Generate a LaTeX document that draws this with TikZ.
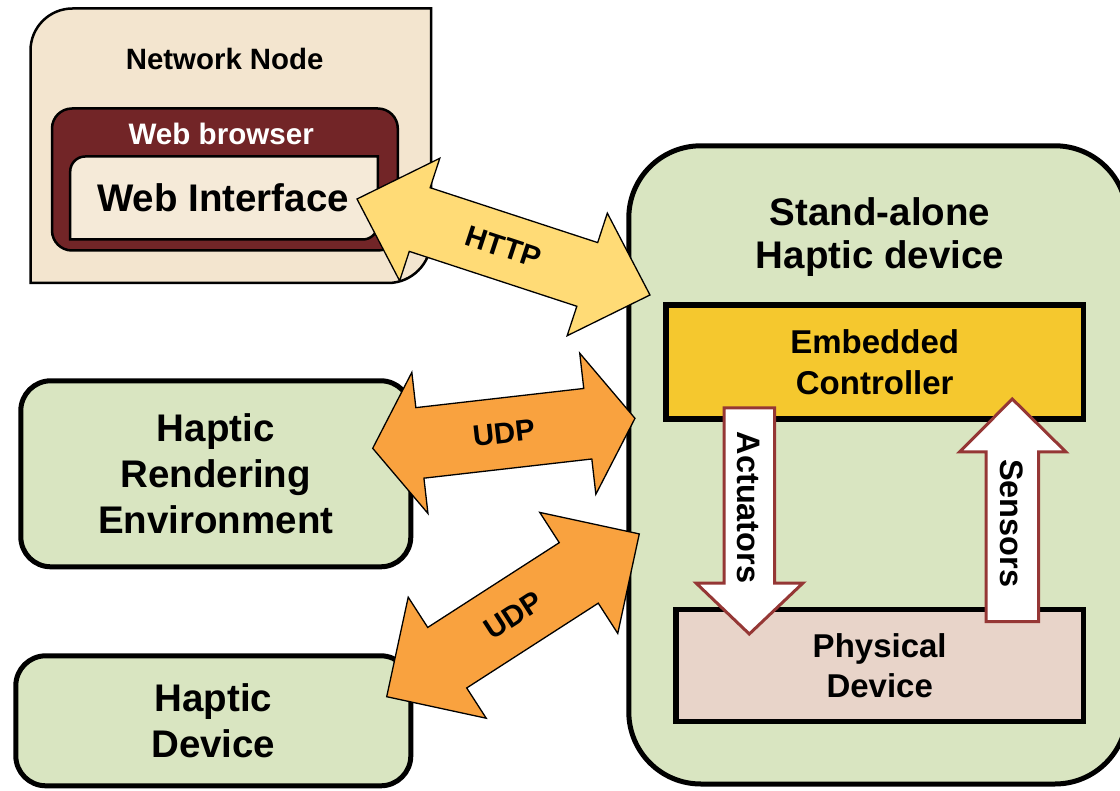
\documentclass[tikz,border=0pt]{standalone}
\usepackage{fontspec}
\setmainfont{Liberation Sans}
\usetikzlibrary{calc}

\definecolor{nodetan}{HTML}{F3E5CF}
\definecolor{browserred}{HTML}{722527}
\definecolor{ifacetan}{HTML}{F5EAD8}
\definecolor{boxgreen}{HTML}{D9E5C1}
\definecolor{httpyellow}{HTML}{FFDB76}
\definecolor{udporange}{HTML}{F9A23F}
\definecolor{ctrlgold}{HTML}{F5C82E}
\definecolor{physpink}{HTML}{E8D4C9}
\definecolor{signalred}{HTML}{953735}

\tikzset{
  every node/.style={inner sep=0pt, outer sep=0pt},
  greenbox/.style={draw=black, line width=5pt, fill=boxgreen, rounded corners=30pt,
    align=center, font={\bfseries\fontsize{38.5}{45.8}\selectfont}},
  innerbox/.style={draw=black, line width=5.5pt, align=center,
    font={\bfseries\fontsize{33}{41}\selectfont}},
  linkarrow/.style={draw=black, line width=1.3pt, line join=miter},
  httparrow/.style={linkarrow, fill=httpyellow},
  udparrow/.style={linkarrow, fill=udporange},
  arrowtext/.style={font={\bfseries\fontsize{29.5}{34}\selectfont}},
  signalarrow/.style={draw=signalred, line width=3pt, fill=white, line join=miter},
  signaltext/.style={font={\bfseries\fontsize{32.5}{38}\selectfont}, rotate=-90},
}

% two-headed block arrow: name, tail tip, angle, length,
% shaft half width, head half width, head length, style, label
\newcommand\wayarrow[9]{%
  \begin{scope}[shift={(#2)},rotate=#3]
    \draw[#8] (0,0) -- (#7,#6) -- (#7,#5) -- ({#4-#7},#5) -- ({#4-#7},#6) -- (#4,0)
      -- ({#4-#7},-#6) -- ({#4-#7},-#5) -- (#7,-#5) -- (#7,-#6) -- cycle;
    \node[arrowtext, rotate=#3] (#1) at ({#4/2},0) {#9};
  \end{scope}}

\begin{document}
\begin{tikzpicture}[x=1pt,y=-1pt]
\useasboundingbox (0,0) rectangle (1120,791);
\clip (0,0) rectangle (1120,791);
\fill[white] (0,0) rectangle (1120,791);

% network node with its browser
\draw[line width=2.5pt, fill=nodetan]
  (30.5,283) -- (30.5,50.5) .. controls (30.5,27.3) and (49.3,8.5) .. (72.5,8.5)
  -- (431,8.5) -- (431,240) .. controls (431,263.7) and (411.7,283) .. (388,283) -- cycle;
\node[font={\bfseries\fontsize{29.4}{34}\selectfont}, anchor=base] (netnode) at (224.7,69.3) {Network Node};

\node[draw=black, line width=2.5pt, fill=browserred, rounded corners=20pt,
  minimum width=345.8pt, minimum height=142pt] (browser) at (224.9,179.5) {};
\node[font={\bfseries\fontsize{29.6}{34}\selectfont}, text=white, anchor=base] (browsertitle) at (221.2,145) {Web browser};

\draw[line width=2.5pt, fill=ifacetan]
  (70.2,239.5) -- (70.2,171.5) .. controls (70.2,163.2) and (76.9,156.5) .. (85.2,156.5)
  -- (377.8,156.5) -- (377.8,224.5) .. controls (377.8,232.8) and (371.1,239.5) .. (362.8,239.5) -- cycle;
\node[font={\bfseries\fontsize{38.5}{44}\selectfont}, anchor=base] (webif) at (223,211.7) {Web Interface};

% stand-alone device
\node[draw=black, line width=5pt, fill=boxgreen, rounded corners=72pt,
  minimum width=498.2pt, minimum height=638.2pt] (standalone) at (877.9,464.9) {};
\node[align=center, font={\bfseries\fontsize{38.5}{43.3}\selectfont}] (satitle) at (880,236.7) {Stand-alone\\Haptic device};
\node[innerbox, fill=ctrlgold, minimum width=417.7pt, minimum height=114pt] (ctrl) at (874.7,362.2) {Embedded\\Controller};
\node[innerbox, fill=physpink, minimum width=407.3pt, minimum height=112.2pt, font={\bfseries\fontsize{33}{40}\selectfont}] (phys) at (879.7,665.5) {Physical\\Device};

% left side clients
\node[greenbox, minimum width=390pt, minimum height=186pt] (render) at (215.8,473.8) {Haptic\\Rendering\\Environment};
\node[greenbox, minimum width=395pt, minimum height=130pt] (hapdev) at (213.3,720.8) {Haptic\\Device};

% network links
\coordinate (http-w) at (357,199);
\coordinate (udp1-w) at (372.7,448.3);
\coordinate (udp2-w) at (386.7,696.7);
\wayarrow{http}{http-w}{-18.14}{308.3}{33.5}{64.5}{66}{httparrow}{HTTP}
\wayarrow{udp1}{udp1-w}{6.52}{264}{35.5}{71}{47.5}{udparrow}{UDP}
\wayarrow{udp2}{udp2-w}{32.8}{300.5}{36}{72}{72}{udparrow}{UDP}

% controller to physical device signals
\coordinate (act) at (749.3,408);
\coordinate (sens) at (1012.3,621.5);
\begin{scope}[shift={(act)}]
  \draw[signalarrow] (-25.3,0) -- (25.2,0) -- (25.2,175) -- (53.7,175) -- (0,226)
    -- (-53.3,175) -- (-25.3,175) -- cycle;
\end{scope}
\node[signaltext] (actlabel) at (748.5,507.5) {Actuators};
\begin{scope}[shift={(sens)}]
  \draw[signalarrow] (-26.3,0) -- (26.2,0) -- (26.2,-169.5) -- (53.7,-169.5) -- (0,-222.5)
    -- (-52.8,-169.5) -- (-26.3,-169.5) -- cycle;
\end{scope}
\node[signaltext] (senslabel) at (1012,523.3) {Sensors};
\end{tikzpicture}
\end{document}
